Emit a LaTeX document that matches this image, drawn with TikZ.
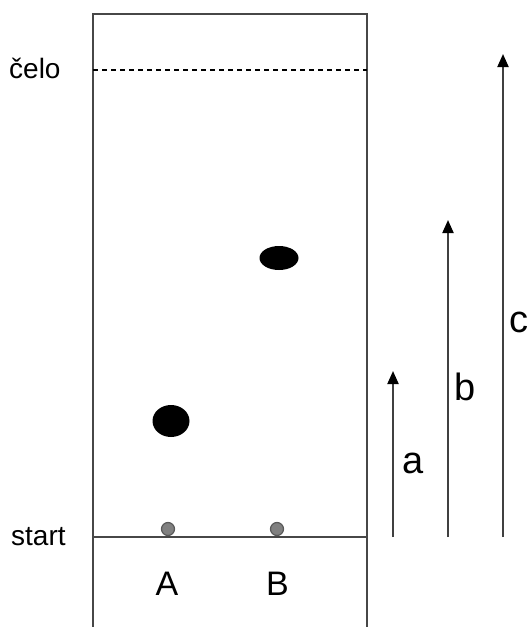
\documentclass[tikz,border=0pt]{standalone}
\usepackage{fontspec}
\setmainfont{Liberation Sans}
\usetikzlibrary{arrows.meta}
\begin{document}
\begin{tikzpicture}[x=1pt,y=-1pt,
  frame/.style={draw=black!72,line width=2pt},
  front/.style={draw=black,line width=1.3pt,dash pattern=on 5pt off 4pt},
  spot/.style={fill=black},
  startdot/.style={circle,draw=black!65,fill=black!50,line width=1.2pt,minimum size=13pt,inner sep=0pt},
  meas/.style={draw=black!75,line width=2pt,-{Triangle[width=11pt,length=13pt,fill=black,color=black]}},
  lbl/.style={inner sep=0pt,anchor=base,font=\fontsize{28}{30}\selectfont},
  biglbl/.style={inner sep=0pt,anchor=base,font=\fontsize{34}{36}\selectfont},
  mlbl/.style={inner sep=0pt,anchor=base,font=\fontsize{38}{40}\selectfont}]
\useasboundingbox (0,0) rectangle (528,627);
\fill[white] (0,0) rectangle (528,627);
% plate
\coordinate (bl) at (93,627);
\coordinate (tl) at (93,14);
\coordinate (tr) at (366.5,14);
\coordinate (br) at (366.5,627);
\draw[frame] (bl) -- (tl) -- (tr) -- (br);
\coordinate (sl) at (93,537);
\coordinate (sr) at (366.5,537);
\draw[frame,line width=1.8pt] (sl) -- (sr);
\coordinate (fl) at (93,70);
\coordinate (fr) at (366.5,70);
\draw[front] (fl) -- (fr);
% labels
\node[lbl,anchor=base west] (celo) at (9,78) {čelo};
\node[lbl,anchor=base west] (start) at (11,545) {start};
\node[biglbl] (A) at (167,595) {A};
\node[biglbl] (B) at (277.5,595) {B};
% start dots
\node[startdot] (dA) at (168,529) {};
\node[startdot] (dB) at (277,529) {};
% spots
\fill[spot] (171,421) ellipse [x radius=18.5, y radius=16];
\fill[spot] (279,258) ellipse [x radius=19.5, y radius=12];
% arrows
\coordinate (a0) at (393,537); \coordinate (a1) at (393,371);
\coordinate (b0) at (448,537); \coordinate (b1) at (448,220);
\coordinate (c0) at (503,537); \coordinate (c1) at (503,54);
\draw[meas] (a0) -- (a1);
\draw[meas] (b0) -- (b1);
\draw[meas] (c0) -- (c1);
\node[mlbl] (la) at (413.5,473) {a};
\node[mlbl] (lb) at (465.5,400) {b};
\node[mlbl] (lc) at (518.5,332) {c};
\end{tikzpicture}
\end{document}
